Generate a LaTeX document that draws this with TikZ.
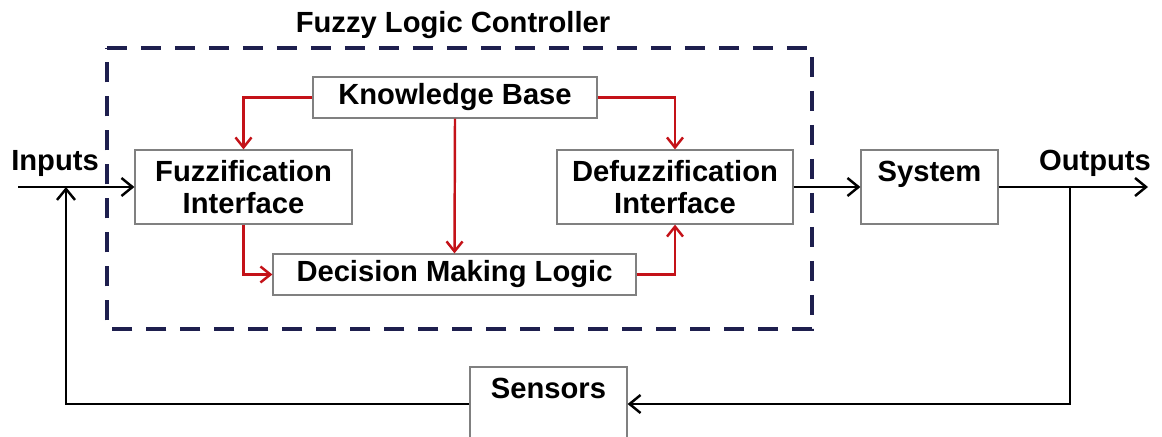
\documentclass[tikz,border=0pt]{standalone}
\usepackage{fontspec}
\setmainfont{Liberation Sans}
\usepackage{xcolor}
\usepackage{tikz}
\usetikzlibrary{calc}
\usetikzlibrary {arrows.meta}
\definecolor{flcnavy}{RGB}{30,31,78}
\definecolor{flcred}{RGB}{196,18,24}

\begin{document}
\begin{tikzpicture}[x=0.02cm,y=-0.02cm,font=\fontsize{16.6}{18}\selectfont\bfseries]
%
\tikzstyle{blk}=[draw=gray,line width=0.7pt,shape=rectangle,align=center,inner sep=0pt]
\tikzstyle{sig}=[line width=1.4pt,-{Straight Barb[length=2.2mm,width=3.6mm,line width=1.4pt]}]
\tikzstyle{rul}=[draw=flcred,line width=1.4pt,-{Straight Barb[length=2mm,width=3.2mm,line width=1.4pt]}]
\tikzstyle{flc}=[flcnavy,line width=2.3pt,dash pattern=on 0.4cm off 0.28cm]
%
\useasboundingbox (0,0) rectangle (1162,436);
%
\draw[flc] (107,48) -- (812,48) -- (812,329) -- (107,329) -- cycle;
\node(title) at (453,25){Fuzzy Logic Controller};
%
\node[blk,minimum width=5.68cm,minimum height=0.82cm](kb) at (455,97.5){Knowledge Base};
\node[blk,minimum width=4.34cm,minimum height=1.48cm](fz) at (243.5,187){Fuzzification\\Interface};
\node[blk,minimum width=4.72cm,minimum height=1.48cm](dfz) at (675,187){Defuzzification\\Interface};
\node[blk,minimum width=7.26cm,minimum height=0.82cm](dml) at (454.5,274.5){Decision Making Logic};
\node[blk,minimum width=2.74cm,minimum height=1.48cm](sys) at (929.5,187){System\\~};
\node[blk,minimum width=3.14cm,minimum height=1.48cm](sen) at (548.5,404){Sensors\\~};
%
\node(inl) at (55,163){Inputs};
\node(outl) at (1095,163){Outputs};
\coordinate(inp) at (18,187);
\coordinate(fbk) at (66,187);
\coordinate(out) at (1148,187);
\coordinate(tap) at (1070,187);
%
\draw[rul] (kb.west) -| (fz.north);
\draw[rul] (kb.east) -| (dfz.north);
\draw[rul] (kb.south) -- (dml.north);
\draw[rul] (fz.south) |- (dml.west);
\draw[rul] (dml.east) -| (dfz.south);
%
\draw[sig] (inp) -- (fz.west);
\draw[sig] (dfz.east) -- (sys.west);
\draw[sig] (sys.east) -- (out);
\draw[sig] (tap) |- (sen.east);
\draw[sig] (sen.west) -| (fbk);
\end{tikzpicture}
\end{document}
